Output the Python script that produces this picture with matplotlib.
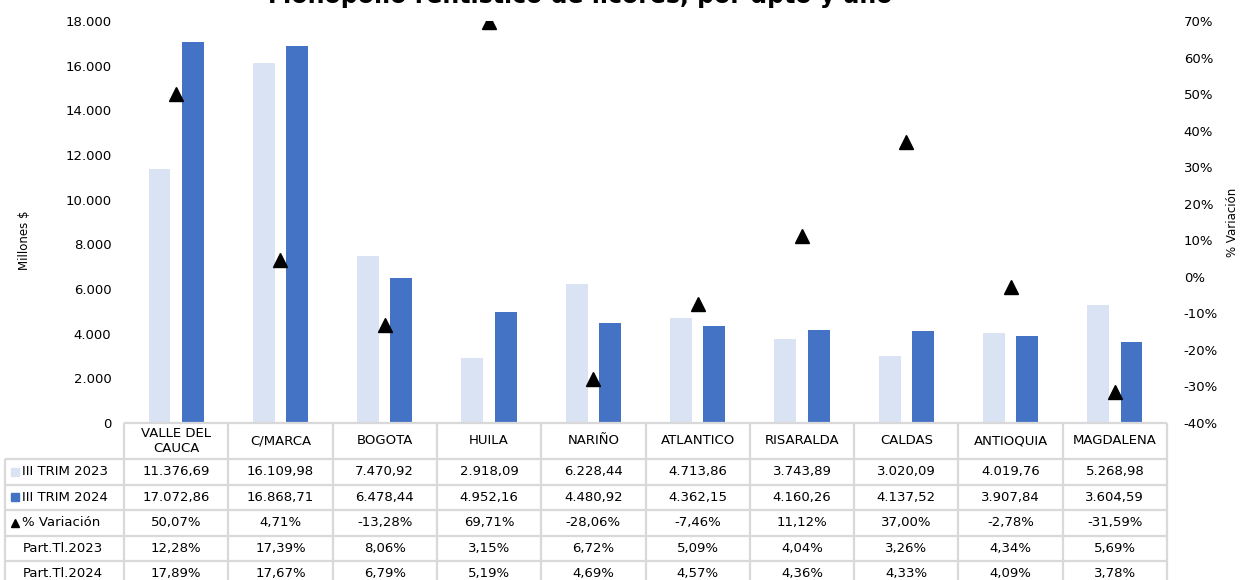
import matplotlib.pyplot as plt
import numpy as np

# datos
deptos = ['VALLE DEL\nCAUCA', 'C/MARCA', 'BOGOTA', 'HUILA', 'NARIÑO', 'ATLANTICO',
          'RISARALDA', 'CALDAS', 'ANTIOQUIA', 'MAGDALENA']
trim_2023 = [11376.69, 16109.98, 7470.92, 2918.09, 6228.44, 4713.86, 3743.89, 3020.09, 4019.76, 5268.98]
trim_2024 = [17072.86, 16868.71, 6478.44, 4952.16, 4480.92, 4362.15, 4160.26, 4137.52, 3907.84, 3604.59]
variacion = [50.07, 4.71, -13.28, 69.71, -28.06, -7.46, 11.12, 37.00, -2.78, -31.59]
part_2023 = [12.28, 17.39, 8.06, 3.15, 6.72, 5.09, 4.04, 3.26, 4.34, 5.69]
part_2024 = [17.89, 17.67, 6.79, 5.19, 4.69, 4.57, 4.36, 4.33, 4.09, 3.78]
row_labels = ['III TRIM 2023', 'III TRIM 2024', '% Variación', 'Part.Tl.2023', 'Part.Tl.2024']

c_2023 = '#DAE3F3'
c_2024 = '#4472C4'
grid_c = '#D9D9D9'

plt.rcParams['font.family'] = 'DejaVu Sans'


def fmt_num(v):
    s = f"{v:,.2f}"
    return s.replace(',', 'X').replace('.', ',').replace('X', '.')


def fmt_pct(v):
    return f"{v:.2f}%".replace('.', ',')


W, H = 1240, 580
fig = plt.figure(figsize=(W / 100, H / 100), dpi=100)

# eje principal (px)
x_left, x_right, y_top, y_bot = 124, 1167, 21, 423
ax = fig.add_axes([x_left / W, 1 - y_bot / H, (x_right - x_left) / W, (y_bot - y_top) / H])
x = np.arange(len(deptos))
ax.bar(x - 0.16, trim_2023, width=0.21, color=c_2023)
ax.bar(x + 0.16, trim_2024, width=0.21, color=c_2024)
ax.set_xlim(-0.5, len(deptos) - 0.5)
ax.set_ylim(0, 18000)
ax.set_yticks(np.arange(0, 18001, 2000))
ax.set_yticklabels([f"{int(v):,}".replace(',', '.') for v in np.arange(0, 18001, 2000)])
ax.set_xticks([])
ax.tick_params(axis='y', length=0, pad=9, labelsize=9.5, colors='#000000')
for s in ax.spines.values():
    s.set_visible(False)

ax2 = ax.twinx()
ax2.plot(x, np.array(variacion) / 100, linestyle='none', marker='^', markersize=10, color='black')
ax2.set_ylim(-0.4, 0.7)
pt = np.arange(-40, 71, 10)
ax2.set_yticks(pt / 100)
ax2.set_yticklabels([f"{v}%" for v in pt])
ax2.tick_params(axis='y', length=0, pad=12, labelsize=9.5)
for s in ax2.spines.values():
    s.set_visible(False)

# títulos de ejes
fig.text(25 / W, 1 - 240 / H, 'Millones $', rotation=90, ha='center', va='center', fontsize=8.5)
fig.text(1233 / W, 1 - 222 / H, '% Variación', rotation=90, ha='center', va='center', fontsize=8.5)

fig.text(0.468, 1 - 3 / H, 'Monopolio rentístico de licores, por dpto y año',
         ha='center', va='baseline', fontsize=17, fontweight='bold')

# tabla de datos
unit = (x_right - x_left) / len(deptos)
tx0 = -0.5 - (x_left - 5) / unit
tax = fig.add_axes([5 / W, 0, (x_right - 5) / W, (H - y_bot) / H])
tax.set_xlim(tx0, len(deptos) - 0.5)
tax.set_ylim(H - y_bot, 0)
tax.axis('off')

row_edges = [0, 36, 61.5, 87, 112.5, 138, 163.5]
lw = 1.6
# líneas horizontales
tax.hlines(0, -0.5, len(deptos) - 0.5, color=grid_c, lw=lw, clip_on=False)
for ye in row_edges[1:]:
    tax.hlines(ye, tx0, len(deptos) - 0.5, color=grid_c, lw=lw, clip_on=False)
# líneas verticales
tax.vlines(tx0, row_edges[1], row_edges[-1], color=grid_c, lw=lw, clip_on=False)
for xe in np.arange(-0.5, len(deptos) + 0.5, 1):
    tax.vlines(xe, 0, row_edges[-1], color=grid_c, lw=lw, clip_on=False)

for i, d in enumerate(deptos):
    tax.text(i, 18, d, ha='center', va='center', fontsize=9.5, linespacing=1.15)

rows = [[fmt_num(v) for v in trim_2023], [fmt_num(v) for v in trim_2024],
        [fmt_pct(v) for v in variacion], [fmt_pct(v) for v in part_2023],
        [fmt_pct(v) for v in part_2024]]
for r, vals in enumerate(rows):
    yc = (row_edges[r + 1] + row_edges[r + 2]) / 2
    for i, t in enumerate(vals):
        tax.text(i, yc, t, ha='center', va='center', fontsize=9.5)

# etiquetas de fila con claves
lab_x = tx0 + 17 / unit
keys = [('s', c_2023), ('s', c_2024), ('^', 'black'), (None, None), (None, None)]
for r, lab in enumerate(row_labels):
    yc = (row_edges[r + 1] + row_edges[r + 2]) / 2
    m, c = keys[r]
    if m is not None:
        tax.plot(tx0 + 10 / unit, yc, marker=m, markersize=5.5, color=c, linestyle='none', clip_on=False)
        tax.text(lab_x, yc, lab, ha='left', va='center', fontsize=9.5)
    else:
        tax.text(tx0 + 18 / unit, yc, lab, ha='left', va='center', fontsize=9.5)

fig.savefig('out.png', dpi=100)
